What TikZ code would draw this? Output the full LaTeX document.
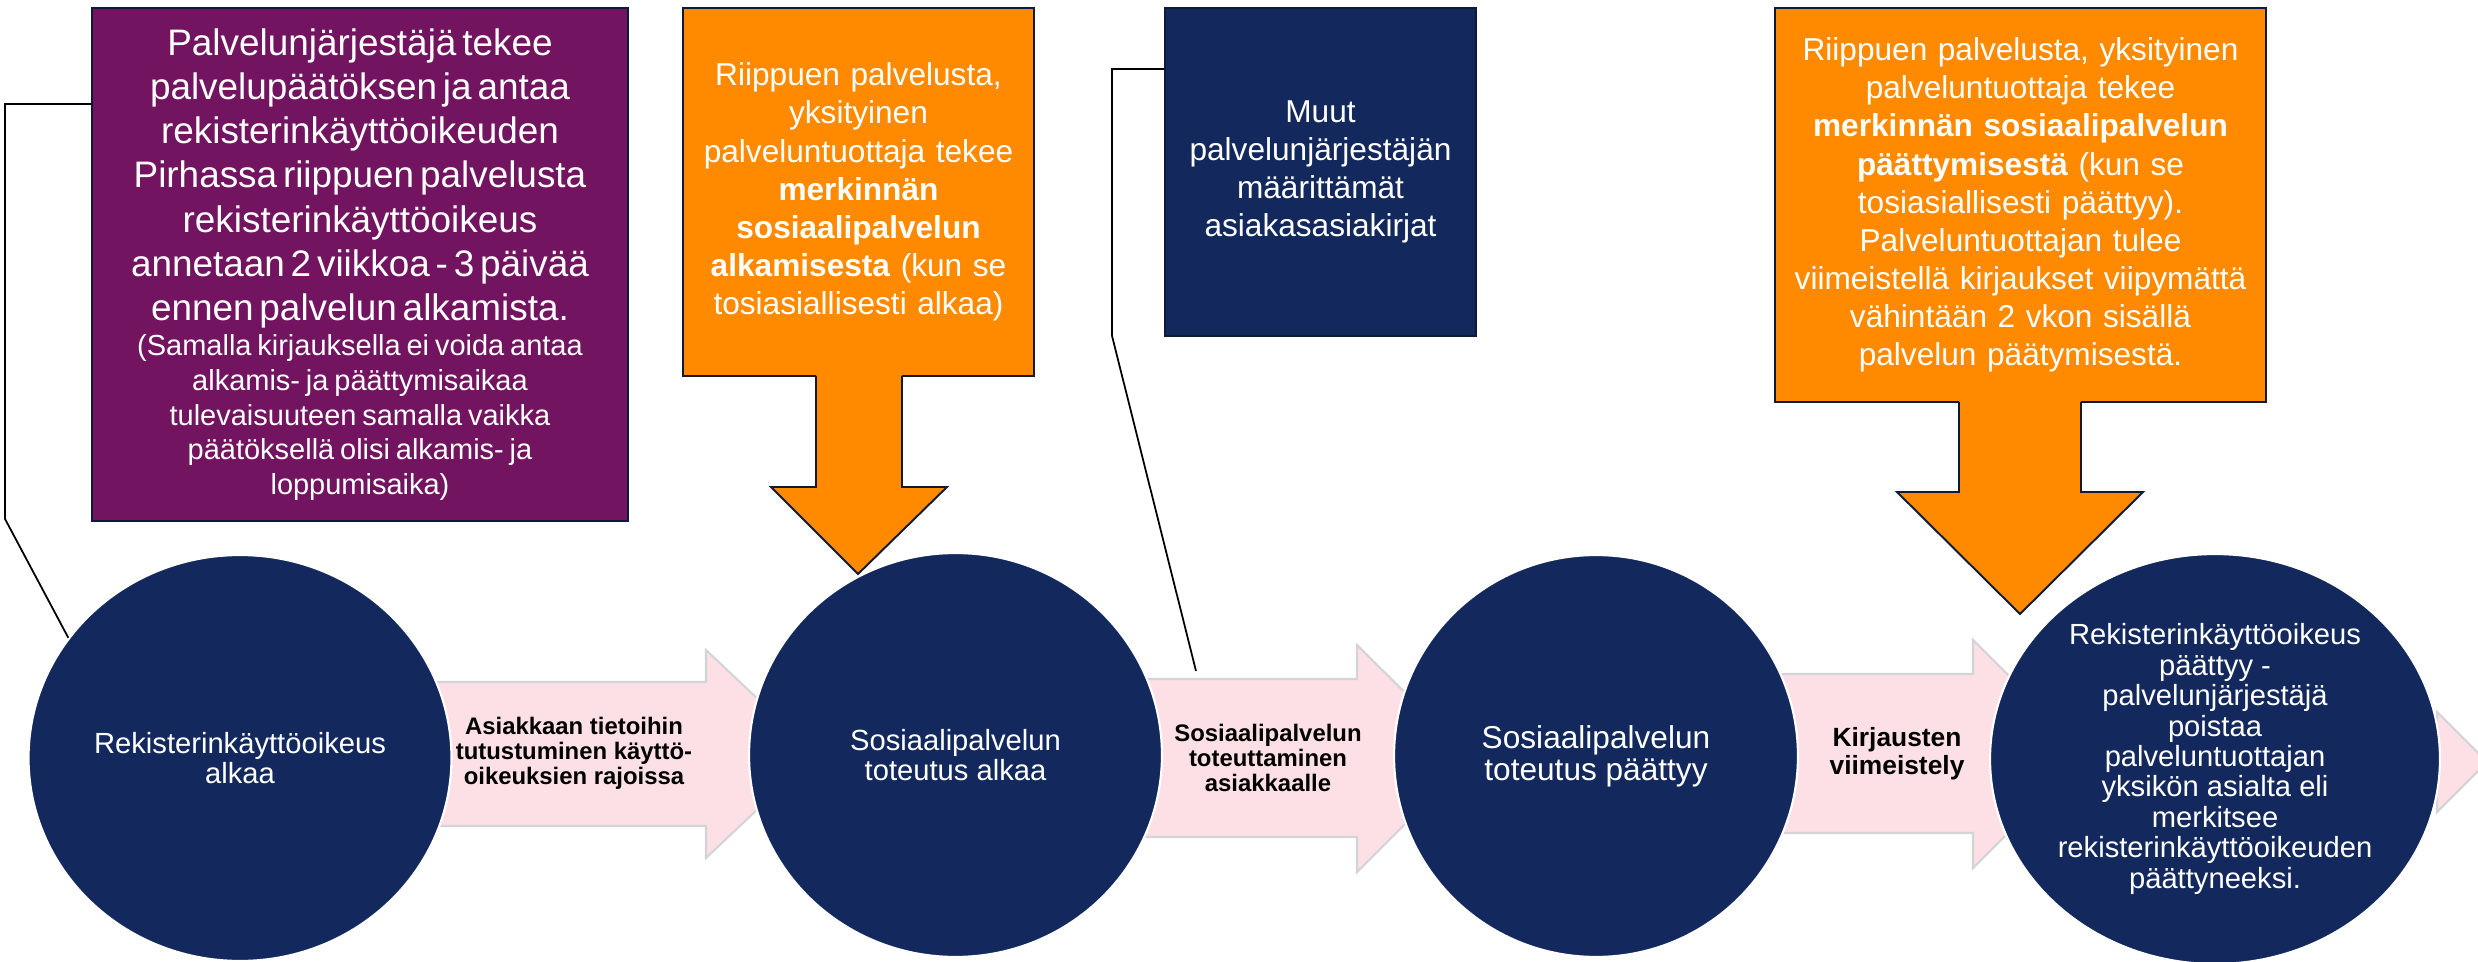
\documentclass[tikz,border=0pt]{standalone}
\usepackage{fontspec}
\setmainfont{Liberation Sans}
\usepackage{xcolor}
\usetikzlibrary{shapes.geometric}

\definecolor{deepnavy}{RGB}{19,41,94}
\definecolor{plum}{RGB}{114,20,96}
\definecolor{amber}{RGB}{255,138,0}
\definecolor{blush}{RGB}{253,224,229}
\definecolor{rim}{RGB}{15,26,56}
\definecolor{chevron}{RGB}{212,212,216}

\tikzset{
  stepcircle/.style={ellipse, fill=deepnavy, draw=white, line width=1.2pt, inner sep=0pt,
    text=white, align=center, font=\fontsize{16.6}{17.3}\selectfont},
  notebox/.style={rectangle, draw=rim, line width=1.1pt, inner sep=0pt, text=white, align=center},
  flowlabel/.style={align=center, font=\fontsize{13.6}{14.2}\selectfont\bfseries},
  flowarrow/.style={fill=blush, draw=chevron, line width=1.2pt},
  leader/.style={draw=black, line width=1pt}
}

\begin{document}
\begin{tikzpicture}[x=0.02cm,y=-0.02cm]
\useasboundingbox (0,0) rectangle (2478,962);

% Nuolet
\draw[flowarrow] (400,682) -- (706,682) -- (706,650) -- (816,754) -- (706,858) -- (706,826) -- (400,826) -- cycle;
\draw[flowarrow] (1120,679) -- (1357,679) -- (1357,645) -- (1471,758) -- (1357,872) -- (1357,837) -- (1120,837) -- cycle;
\draw[flowarrow] (1760,674) -- (1973,674) -- (1973,640) -- (2087,754) -- (1973,868) -- (1973,833) -- (1760,833) -- cycle;
\draw[flowarrow] (2400,737) -- (2437,737) -- (2437,712) -- (2487,762) -- (2437,812) -- (2437,787) -- (2400,787) -- cycle;

\node[flowlabel] (accessnote) at (574,753) {Asiakkaan tietoihin\\tutustuminen käyttö-\\oikeuksien rajoissa};
\node[flowlabel] (servicenote) at (1268,758) {Sosiaalipalvelun\\toteuttaminen\\asiakkaalle};
\node[flowlabel, font=\fontsize{15}{15.9}\selectfont\bfseries] (finishnote) at (1897,754) {Kirjausten\\viimeistely};

% Vaiheet
\node[stepcircle, minimum width=8.46cm, minimum height=8.12cm] (circA) at (240,758) {Rekisterinkäyttöoikeus\\alkaa};
\node[stepcircle, minimum width=8.26cm, minimum height=8.08cm] (circB) at (955.5,755) {Sosiaalipalvelun\\toteutus alkaa};
\node[stepcircle, minimum width=8.08cm, minimum height=8.04cm, font=\fontsize{18}{18.2}\selectfont] (circC) at (1596,756) {Sosiaalipalvelun\\toteutus päättyy};
\node[stepcircle, minimum width=9cm, minimum height=8.2cm] (circD) at (2215,759) {Rekisterinkäyttöoikeus\\päättyy -\\palvelunjärjestäjä\\poistaa\\palveluntuottajan\\yksikön asialta eli\\merkitsee\\rekisterinkäyttöoikeuden\\päättyneeksi.};

% Laatikot
\node[notebox, fill=plum, minimum width=10.72cm, minimum height=10.26cm, text width=10.4cm] (decision) at (360,264.5)
  {{\fontsize{21}{25.2}\selectfont Palvelunjärjestäjä tekee\\palvelupäätöksen ja antaa\\rekisterinkäyttöoikeuden\\Pirhassa riippuen palvelusta\\rekisterinkäyttöoikeus\\annetaan 2 viikkoa - 3 päivää\\ennen palvelun alkamista.\par}
   {\fontsize{16.5}{19.8}\selectfont (Samalla kirjauksella ei voida antaa\\alkamis- ja päättymisaikaa\\tulevaisuuteen samalla vaikka\\päätöksellä olisi alkamis- ja\\loppumisaika)\par}};

\node[notebox, fill=amber, minimum width=7.02cm, minimum height=7.36cm, text width=6.8cm, font=\fontsize{18}{21.7}\selectfont] (startmark) at (858.5,192)
  {Riippuen palvelusta,\\yksityinen\\palveluntuottaja tekee\\\textbf{merkinnän}\\\textbf{sosiaalipalvelun}\\\textbf{alkamisesta} (kun se\\tosiasiallisesti alkaa)};
\fill[amber] (816,370) -- (816,487) -- (771,487) -- (858,574) -- (947,487) -- (902,487) -- (902,370) -- cycle;
\draw[rim, line width=1.1pt] (816,376) -- (816,487) -- (771,487) -- (858,574) -- (947,487) -- (902,487) -- (902,376);

\node[notebox, fill=deepnavy, minimum width=6.22cm, minimum height=6.56cm, text width=6cm, font=\fontsize{18}{21.7}\selectfont] (otherdocs) at (1320.5,172)
  {Muut\\palvelunjärjestäjän\\määrittämät\\asiakasasiakirjat};

\node[notebox, fill=amber, minimum width=9.82cm, minimum height=7.88cm, text width=9.6cm, font=\fontsize{18}{21.7}\selectfont] (endmark) at (2020.5,205)
  {Riippuen palvelusta, yksityinen\\palveluntuottaja tekee\\\textbf{merkinnän sosiaalipalvelun}\\\textbf{päättymisestä} (kun se\\tosiasiallisesti päättyy).\\Palveluntuottajan tulee\\viimeistellä kirjaukset viipymättä\\vähintään 2 vkon sisällä\\palvelun päätymisestä.};
\fill[amber] (1959,396) -- (1959,492) -- (1897,492) -- (2020,614) -- (2143,492) -- (2081,492) -- (2081,396) -- cycle;
\draw[rim, line width=1.1pt] (1959,402) -- (1959,492) -- (1897,492) -- (2020,614) -- (2143,492) -- (2081,492) -- (2081,402);

% Viivat
\coordinate (docsend) at (1196,671);
\draw[leader] ([yshift=-1.94cm]decision.north west) -- ++(-86,0) -- ++(0,415) -- (circA.145);
\draw[leader] ([yshift=-1.24cm]otherdocs.north west) -- ++(-52,0) -- ++(0,267) -- (docsend);
\end{tikzpicture}
\end{document}
